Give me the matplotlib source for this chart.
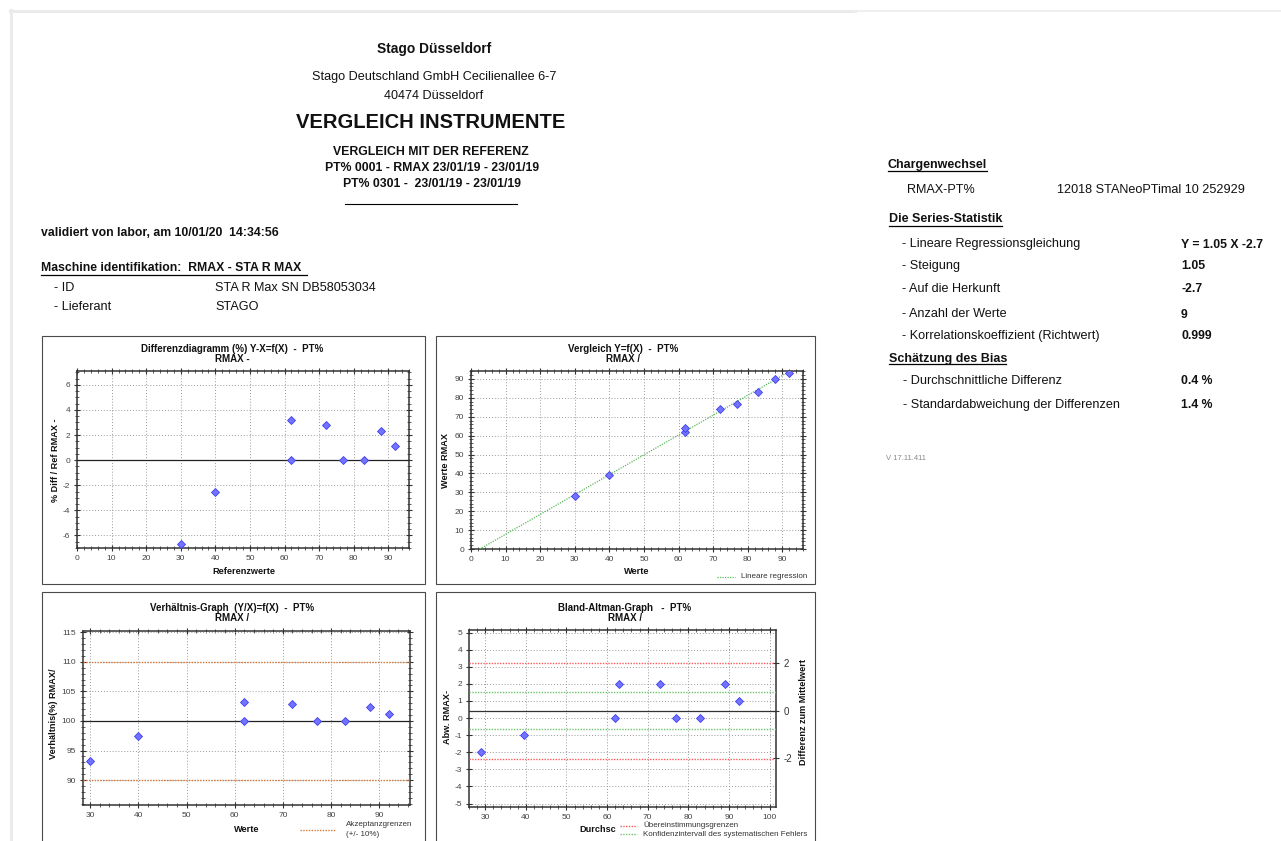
import matplotlib
matplotlib.use('Agg')
import matplotlib.pyplot as plt
from matplotlib.lines import Line2D
from matplotlib.patches import Rectangle
from matplotlib.ticker import MultipleLocator, FixedLocator
import numpy as np

W, H = 1281, 841
plt.rcParams['font.family'] = ['Liberation Sans', 'DejaVu Sans']
plt.rcParams['axes.unicode_minus'] = False

# ---------------- data ----------------
ref_x = [30, 40, 62, 62, 72, 77, 83, 88, 92]          # Referenzwerte
rmax_y = [28, 39, 62, 64, 74, 77, 83, 90, 93]         # Werte RMAX
diff_pct = [-6.67, -2.5, 0.0, 3.23, 2.78, 0.0, 0.0, 2.3, 1.1]
ratio_pct = [93.3, 97.5, 100.0, 103.2, 102.8, 100.0, 100.0, 102.3, 101.1]
ba_mean = [29, 39.5, 62, 63, 73, 77, 83, 89, 92.5]
ba_diff = [-2, -1, 0, 2, 2, 0, 0, 2, 1]
reg_slope, reg_intercept = 1.05, -2.7
ba_bias, ba_sd = 0.44, 1.4
ba_loa = [3.22, -2.38]
ba_ci = [1.52, -0.65]
ratio_center = 100
ratio_limits = [110, 90]
right_ticks = [-2, 0, 2]

fig = plt.figure(figsize=(W / 100, H / 100), dpi=100)
fig.patch.set_facecolor('white')


def fx(x):
    return x / W


def fy(y):
    return 1 - y / H


def text(x, y, s, size=9, weight='normal', ha='left', color='#111111', va='center', **kw):
    fig.text(fx(x), fy(y), s, fontsize=size, fontweight=weight, ha=ha, va=va, color=color, **kw)


def hline(x0, x1, y, color='black', lw=0.9):
    fig.add_artist(Line2D([fx(x0), fx(x1)], [fy(y), fy(y)], transform=fig.transFigure, color=color, lw=lw))


def vline(x, y0, y1, color='black', lw=0.9):
    fig.add_artist(Line2D([fx(x), fx(x)], [fy(y0), fy(y1)], transform=fig.transFigure, color=color, lw=lw))


def panel(x0, y0, x1, y1):
    fig.add_artist(Rectangle((fx(x0), fy(y1)), (x1 - x0) / W, (y1 - y0) / H, transform=fig.transFigure,
                             fill=False, ec='#4a4a4a', lw=0.8))


def axes_px(l, t, r, b):
    return fig.add_axes([l / W, 1 - b / H, (r - l) / W, (b - t) / H])


def style(ax, xmaj, xmin, ymaj, ymin, right=True):
    ax.xaxis.set_major_locator(MultipleLocator(xmaj))
    ax.xaxis.set_minor_locator(MultipleLocator(xmin))
    ax.yaxis.set_major_locator(MultipleLocator(ymaj))
    if ymin:
        ax.yaxis.set_minor_locator(MultipleLocator(ymin))
    ax.grid(True, which='major', linestyle=(0, (1, 2)), color='#9a9a9a', lw=0.7)
    ax.set_axisbelow(True)
    ax.tick_params(which='both', direction='inout', top=True, right=right, labelsize=6,
                   labelcolor='#444444', color='#333333', pad=2.5)
    ax.tick_params(which='major', length=5, width=0.8)
    ax.tick_params(which='minor', length=2.6, width=0.55)
    for s in ax.spines.values():
        s.set_color('#333333')
        s.set_linewidth(1.1)


MK = dict(marker='D', linestyle='none', markersize=4.5, mfc='#7373ff', mec='#3f3ff0', mew=0.6, zorder=5)

# ---------------- page frame ----------------
hline(10, 855, 10.5, color='#ebebeb', lw=2.2)
hline(855, 1281, 11, color='#efefef', lw=1.5)
vline(10.5, 10, 841, color='#ebebeb', lw=2.2)

# ---------------- header ----------------
text(434, 49, 'Stago Düsseldorf', size=9.9, weight='bold', ha='center')
text(434, 77, 'Stago Deutschland GmbH Cecilienallee 6-7', size=9.1, ha='center')
text(434, 96, '40474 Düsseldorf', size=9.1, ha='center')
text(431, 123, 'VERGLEICH INSTRUMENTE', size=14.5, weight='bold', ha='center')
text(431, 152, 'VERGLEICH MIT DER REFERENZ', size=8.8, weight='bold', ha='center')
text(432, 168, 'PT% 0001 - RMAX 23/01/19 - 23/01/19', size=8.8, weight='bold', ha='center')
text(432, 184, 'PT% 0301 -  23/01/19 - 23/01/19', size=8.8, weight='bold', ha='center')
hline(345, 517, 203.5, lw=0.8)

text(41, 233, 'validiert von labor, am 10/01/20  14:34:56', size=8.8, weight='bold')
text(41, 268, 'Maschine identifikation:  RMAX - STA R MAX ', size=8.8, weight='bold')
hline(41, 307, 275, lw=0.9)
text(54, 288, '- ID', size=9.1)
text(215, 288, 'STA R Max SN DB58053034', size=9.1)
text(54, 307, '- Lieferant', size=9.1)
text(215, 307, 'STAGO', size=9.1)

# ---------------- right stats block ----------------
text(888, 165, 'Chargenwechsel', size=9, weight='bold')
hline(888, 987, 171, lw=0.9)
text(907, 190, 'RMAX-PT%', size=9.1)
text(1057, 190, '12018 STANeoPTimal 10 252929', size=9.1)
text(889, 219, 'Die Series-Statistik', size=9, weight='bold')
hline(889, 1002, 226, lw=0.9)
rows = [
    ('- Lineare Regressionsgleichung', 'Y = 1.05 X -2.7', 244),
    ('- Steigung', '1.05', 265.5),
    ('- Auf die Herkunft', '-2.7', 289),
    ('- Anzahl der Werte', '9', 314),
    ('- Korrelationskoeffizient (Richtwert)', '0.999', 335.5),
]
for lab, val, y in rows:
    text(901.5, y, lab, size=9.1)
    text(1181, y + 0.5, val, size=8.8, weight='bold')
text(889, 359, 'Schätzung des Bias', size=9, weight='bold')
hline(889, 1006, 364.5, lw=0.9)
text(903, 381, '- Durchschnittliche Differenz', size=9.1)
text(1181, 381.5, '0.4 %', size=8.8, weight='bold')
text(903, 405, '- Standardabweichung der Differenzen', size=9.1)
text(1181, 405, '1.4 %', size=8.8, weight='bold')
text(886, 459, 'V 17.11.411', size=5.5, color='#888888')

# ---------------- panels ----------------
panel(41.5, 336, 425, 584)
panel(435.5, 336, 815, 584)
panel(41.5, 592.5, 425, 850)
panel(435.5, 592.5, 815, 850)

TS = 7.0  # title size
LS = 6.6  # label size


def chart_title(xc, base1, line1, line2):
    text(xc, base1, line1, size=TS, weight='bold', ha='center', va='baseline')
    text(xc, base1 + 10, line2, size=TS, weight='bold', ha='center', va='baseline')


# Chart 1 : Differenzdiagramm
ax1 = axes_px(77, 371, 409, 548)
ax1.plot(ref_x, diff_pct, **MK)
ax1.axhline(0, color='#222222', lw=0.9, zorder=3)
ax1.set_xlim(0, 96)
ax1.set_ylim(-7, 7.1)
style(ax1, 10, 2, 2, 0.5)
chart_title(232, 352.5, 'Differenzdiagramm (%) Y-X=f(X)  -  PT%', 'RMAX -')
text(244, 572, 'Referenzwerte', size=LS, weight='bold', ha='center')
fig.text(fx(55), fy(460), '% Diff / Ref RMAX -', fontsize=LS, fontweight='bold', rotation=90,
         ha='center', va='center', color='#111111')

# Chart 2 : Vergleich
ax2 = axes_px(471, 371, 803, 549)
reg_x = np.array([0, max(ref_x)])
ax2.plot(reg_x, reg_slope * reg_x + reg_intercept, linestyle=(0, (1, 1)), color='#5cb85c', lw=0.9, zorder=3)
ax2.plot(ref_x, rmax_y, **MK)
ax2.set_xlim(0, 96)
ax2.set_ylim(0, 94.2)
style(ax2, 10, 2, 10, 2)
chart_title(623, 352.5, 'Vergleich Y=f(X)  -  PT%', 'RMAX /')
text(637, 572, 'Werte', size=LS, weight='bold', ha='center')
fig.text(fx(446), fy(460), 'Werte RMAX', fontsize=LS, fontweight='bold', rotation=90,
         ha='center', va='center', color='#111111')
fig.add_artist(Line2D([fx(717), fx(735)], [fy(577), fy(577)], transform=fig.transFigure,
                      linestyle=(0, (1, 1)), color='#5cb85c', lw=0.9))
text(741, 577, 'Lineare regression', size=5.8, color='#333333')

# Chart 3 : Verhältnis
ax3 = axes_px(83, 631, 410, 805)
ax3.axhline(ratio_center, color='#222222', lw=0.9, zorder=3)
for v in ratio_limits:
    ax3.axhline(v, color='#d2783c', lw=1.0, linestyle=(0, (1, 1)), zorder=3)
ax3.plot(ref_x, ratio_pct, **MK)
ax3.set_xlim(28.5, 96.4)
ax3.set_ylim(85.8, 115.2)
style(ax3, 10, 2, 5, 1)
chart_title(232, 611, 'Verhältnis-Graph  (Y/X)=f(X)  -  PT%', 'RMAX /')
text(247, 830, 'Werte', size=LS, weight='bold', ha='center')
fig.text(fx(53), fy(714), 'Verhältnis(%) RMAX/', fontsize=LS, fontweight='bold', rotation=90,
         ha='center', va='center', color='#111111')
fig.add_artist(Line2D([fx(300), fx(335)], [fy(830), fy(830)], transform=fig.transFigure,
                      linestyle=(0, (1, 1)), color='#d2783c', lw=1.0))
text(345.5, 825, 'Akzeptanzgrenzen', size=5.8, color='#333333')
text(345.5, 835, '(+/- 10%)', size=5.8, color='#333333')

# Chart 4 : Bland-Altman
ax4 = axes_px(469, 630, 776, 807)
ax4.axhline(ba_bias, color='#333333', lw=0.9, zorder=3)
for v in ba_loa:
    ax4.axhline(v, color='#ff5a5a', lw=1.0, linestyle=(0, (1, 1)), zorder=3)
for v in ba_ci:
    ax4.axhline(v, color='#6cc46c', lw=1.0, linestyle=(0, (1, 1)), zorder=3)
ax4.plot(ba_mean, ba_diff, **MK)
ax4.set_xlim(26, 101.6)
ax4.set_ylim(-5.2, 5.15)
style(ax4, 10, 2, 1, None, right=False)
ax4b = ax4.twinx()
lo, hi = ax4.get_ylim()
ax4b.set_ylim((lo - ba_bias) / ba_sd, (hi - ba_bias) / ba_sd)
ax4b.yaxis.set_major_locator(FixedLocator(right_ticks))
ax4b.tick_params(axis='y', direction='inout', length=5, width=0.8, labelsize=7, labelcolor='#333333',
                 color='#333333', pad=3)
for s in ax4b.spines.values():
    s.set_visible(False)
chart_title(625, 611, 'Bland-Altman-Graph   -  PT%', 'RMAX /')
text(598, 830, 'Durchsc', size=LS, weight='bold', ha='center')
fig.text(fx(447), fy(717), 'Abw. RMAX-', fontsize=LS, fontweight='bold', rotation=90,
         ha='center', va='center', color='#111111')
fig.text(fx(803), fy(712), 'Differenz zum Mittelwert', fontsize=LS, fontweight='bold', rotation=90,
         ha='center', va='center', color='#111111')
fig.add_artist(Line2D([fx(620), fx(637)], [fy(826), fy(826)], transform=fig.transFigure,
                      linestyle=(0, (1, 1)), color='#ff5a5a', lw=1.0))
fig.add_artist(Line2D([fx(620), fx(637)], [fy(834), fy(834)], transform=fig.transFigure,
                      linestyle=(0, (1, 1)), color='#6cc46c', lw=1.0))
text(643, 825.5, 'Übereinstimmungsgrenzen', size=5.8, color='#333333')
text(643, 834, 'Konfidenzintervall des systematischen Fehlers', size=5.8, color='#333333')

fig.savefig('out.png', dpi=100, facecolor='white')
